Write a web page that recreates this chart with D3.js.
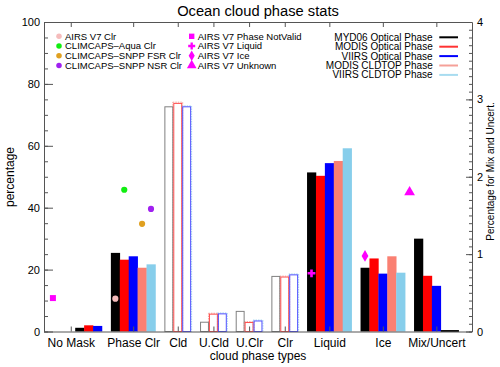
<html>
<head>
<style>
  body { margin: 0; background: #fff; }
  svg { font-family: "Liberation Sans", Arial, Helvetica, sans-serif; }
</style>
</head>
<body>
<svg id="chart" width="500" height="367"></svg>
<script src="https://d3js.org/d3.v7.min.js"></script>
<script>
// ---- data ----
const categories = ["No Mask", "Phase Clr", "Cld", "U.Cld", "U.Clr", "Clr", "Liquid", "Ice", "Mix/Uncert"];

// hollow (outline) bars
const hollowGray = [0, null, 72.6, 3.0, 6.5, 17.8, null, null, null];
const hollowRed  = [0, null, 73.7, 5.6, 2.9, 17.6, null, null, null];
const hollowBlue = [0, null, 72.6, 5.7, 3.4, 18.3, null, null, null];
// dotted cldtop outlines that sit over the red / blue outlines
const hollowSalmon = [null, null, 74.1, 5.9, 3.2, 17.9, null, null, null];
const hollowSky    = [null, null, 72.9, 6.0, 3.7, 18.6, null, null, null];

// filled bars (Mix/Uncert is on the right axis)
const seriesNames = ["MYD06 Optical Phase", "MODIS Optical Phase", "VIIRS Optical Phase", "MODIS CLDTOP Phase", "VIIRS CLDTOP Phase"];
const myd06Opt = [1.2, 25.4, null, null, null, null, 51.4, 20.6, 1.20];
const modisOpt = [2.0, 23.2, null, null, null, null, 50.3, 23.6, 0.72];
const viirsOpt = [1.8, 24.3, null, null, null, null, 54.4, 18.7, 0.59];
const modisTop = [null, 20.6, null, null, null, null, 55.1, 24.3, 0];
const viirsTop = [null, 21.7, null, null, null, null, 59.2, 19.0, 0];

// point markers
const markerNames  = ["AIRS V7 Clr", "CLIMCAPS–Aqua Clr", "CLIMCAPS–SNPP FSR Clr", "CLIMCAPS–SNPP NSR Clr",
                      "AIRS V7 Phase NotValid", "AIRS V7 Liquid", "AIRS V7 Ice", "AIRS V7 Unknown"];
const markerCat    = [1, 1, 1, 1, 0, 6, 7, 8];
const markerValues = [10.6, 45.8, 34.8, 39.6, 10.8, 18.8, 24.4, 1.8];

const leftTicks  = [0, 20, 40, 60, 80, 100];
const rightTicks = [0, 1, 2, 3, 4];

// ---- layout ----
const L = 44, R = 472, T = 22, B = 331.5;
const svg = d3.select("#chart");
const axisColor = "#555";

const x = d3.scaleLinear().domain([0, 48]).range([L, R]);
const y = d3.scaleLinear().domain([0, 100]).range([B, T]);
const y2 = d3.scaleLinear().domain([0, 4]).range([B, T]);
const slotW = x(1) - x(0);

const fillColors = ["#000000", "#ff0000", "#0000ff", "#fa8072", "#87ceeb"];
const filled = [myd06Opt, modisOpt, viirsOpt, modisTop, viirsTop];
const hollow = [hollowGray, hollowRed, hollowBlue];
const hollowColors = ["#808080", "#ff5050", "#5050ff"];

// walk through categories, one slot per bar and a gap between groups
let slot = 0.5;
const groupStart = [], tickPos = [];
const hollowBars = [], filledBars = [], overlayBars = [];
categories.forEach((c, i) => {
  const start = slot;
  hollow.forEach((s, k) => {
    if (s[i] !== null) {
      hollowBars.push({ slot: slot, v: s[i], color: hollowColors[k] });
      if (k === 1 && hollowSalmon[i] !== null) overlayBars.push({ slot: slot, v: hollowSalmon[i], color: "#f6a8a0" });
      if (k === 2 && hollowSky[i] !== null) overlayBars.push({ slot: slot, v: hollowSky[i], color: "#a8d8f0" });
      slot += 1;
    }
  });
  filled.forEach((s, k) => {
    if (s[i] !== null) {
      filledBars.push({ slot: slot, v: s[i], color: fillColors[k], right: i === 8 });
      slot += 1;
    }
  });
  const n = slot - start;
  groupStart.push(start);
  tickPos.push(start + Math.min(n, 5) / 2);
  slot += 1;
});

// dotted outlines behind
svg.append("g").selectAll("rect").data(overlayBars).enter().append("rect")
  .attr("x", d => x(d.slot) - 0.5)
  .attr("y", d => y(d.v))
  .attr("width", slotW + 1)
  .attr("height", d => B - y(d.v))
  .attr("fill", "none")
  .attr("stroke", d => d.color)
  .attr("stroke-dasharray", "1.5,1")
  .attr("stroke-width", 1);

svg.append("g").selectAll("rect").data(hollowBars).enter().append("rect")
  .attr("x", d => x(d.slot) + 0.5)
  .attr("y", d => y(d.v))
  .attr("width", slotW - 1)
  .attr("height", d => B - y(d.v))
  .attr("fill", "none")
  .attr("stroke", d => d.color)
  .attr("stroke-width", 1);

svg.append("g").selectAll("rect").data(filledBars).enter().append("rect")
  .attr("x", d => x(d.slot))
  .attr("y", d => d.v === 0 ? B - 1.5 : (d.right ? y2(d.v) : y(d.v)))
  .attr("width", slotW + 0.3)
  .attr("height", d => d.v === 0 ? 2 : B - (d.right ? y2(d.v) : y(d.v)))
  .attr("fill", d => d.v === 0 ? "#111" : d.color);

// ---- axes ----
function styleAxis(g) {
  g.selectAll("path, line").attr("stroke", axisColor);
  g.selectAll("text").attr("fill", "#000");
}

const gLeft = svg.append("g").attr("transform", `translate(${L},0)`)
  .call(d3.axisLeft(y).tickValues(leftTicks).tickSize(-9).tickSizeOuter(0).tickPadding(4))
  .call(styleAxis);
gLeft.selectAll("text").attr("font-size", 11);
svg.append("g").attr("transform", `translate(${L},0)`)
  .call(d3.axisLeft(y).tickValues(d3.range(0, 101, 5)).tickSize(-4).tickFormat(""))
  .call(g => g.select(".domain").remove()).call(styleAxis);

const gRight = svg.append("g").attr("transform", `translate(${R},0)`)
  .call(d3.axisRight(y2).tickValues(rightTicks).tickSize(-6).tickSizeOuter(0).tickPadding(5)
    .tickFormat(d3.format("d")))
  .call(styleAxis);
gRight.selectAll("text").attr("font-size", 11);
svg.append("g").attr("transform", `translate(${R},0)`)
  .call(d3.axisRight(y2).tickValues(d3.range(0, 40.5, 1).map(d => d / 10)).tickSize(-3).tickFormat(""))
  .call(g => g.select(".domain").remove()).call(styleAxis);

const gBottom = svg.append("g").attr("transform", `translate(0,${B})`)
  .call(d3.axisBottom(x).tickValues(tickPos).tickSize(-5).tickSizeOuter(0).tickPadding(7)
    .tickFormat((d, i) => categories[i]))
  .call(styleAxis);
gBottom.selectAll("text").attr("font-size", 12);

svg.append("g").attr("transform", `translate(0,${T})`)
  .call(d3.axisTop(x).tickValues(tickPos).tickSize(-5).tickSizeOuter(0).tickFormat(""))
  .call(styleAxis);

// ---- markers ----
const markerColors = ["#f5bcbc", "#11ee11", "#e0a020", "#a020f0", "#ff00ff", "#ff00ff", "#ff00ff", "#ff00ff"];
const markerShapes = [d3.symbolCircle, d3.symbolCircle, d3.symbolCircle, d3.symbolCircle,
                      d3.symbolSquare, d3.symbolCross, d3.symbolDiamond, d3.symbolTriangle];
const markerSizes  = [30, 30, 30, 30, 36, 34, 40, 50];
const markerBar    = [0, 1, 3, 4, 0, 0, 0, -1];

svg.append("g").selectAll("path").data(markerValues).enter().append("path")
  .attr("d", (d, i) => d3.symbol().type(markerShapes[i]).size(markerSizes[i])())
  .attr("fill", (d, i) => markerColors[i])
  .attr("transform", (d, i) => {
    const px = x(groupStart[markerCat[i]] + markerBar[i] + 0.5);
    const py = markerCat[i] === 8 ? y2(d) : y(d);
    return `translate(${px},${py})`;
  });

// ---- legends ----
const legY0 = 36.3, legDy = 9.7;
const legend = svg.append("g").attr("font-size", 9.5);
markerNames.forEach((name, i) => {
  const col = i < 4 ? 0 : 1;
  const row = i % 4;
  const mx = col === 0 ? 59 : 191.7;
  const my = legY0 + row * legDy;
  legend.append("path")
    .attr("d", d3.symbol().type(markerShapes[i]).size(markerSizes[i] * 0.8)())
    .attr("fill", markerColors[i])
    .attr("transform", `translate(${mx},${my})`);
  legend.append("text").attr("x", mx + 6).attr("y", my).attr("dy", "0.35em").text(name);
});

const lineColors = ["#000000", "#ff3333", "#0000ff", "#f5a098", "#a8dcf0"];
seriesNames.forEach((name, i) => {
  const ly = 37.3 + i * 9.4;
  legend.append("text").attr("x", 432.7).attr("y", ly).attr("dy", "0.35em")
    .attr("font-size", 10).attr("text-anchor", "end").text(name);
  legend.append("line").attr("x1", 439.3).attr("x2", 458).attr("y1", ly).attr("y2", ly)
    .attr("stroke", lineColors[i]).attr("stroke-width", 2);
});

// ---- titles ----
svg.append("text").attr("x", (L + R) / 2).attr("y", 15.5).attr("text-anchor", "middle")
  .attr("font-size", 14.7).text("Ocean cloud phase stats");
svg.append("text").attr("x", (L + R) / 2).attr("y", 360).attr("text-anchor", "middle")
  .attr("font-size", 12).text("cloud phase types");
svg.append("text").attr("transform", `translate(14,177) rotate(-90)`).attr("text-anchor", "middle")
  .attr("font-size", 12).text("percentage");
svg.append("text").attr("transform", `translate(494,171.5) rotate(-90)`).attr("text-anchor", "middle")
  .attr("font-size", 10).text("Percentage for Mix and Uncert.");
</script>
</body>
</html>
